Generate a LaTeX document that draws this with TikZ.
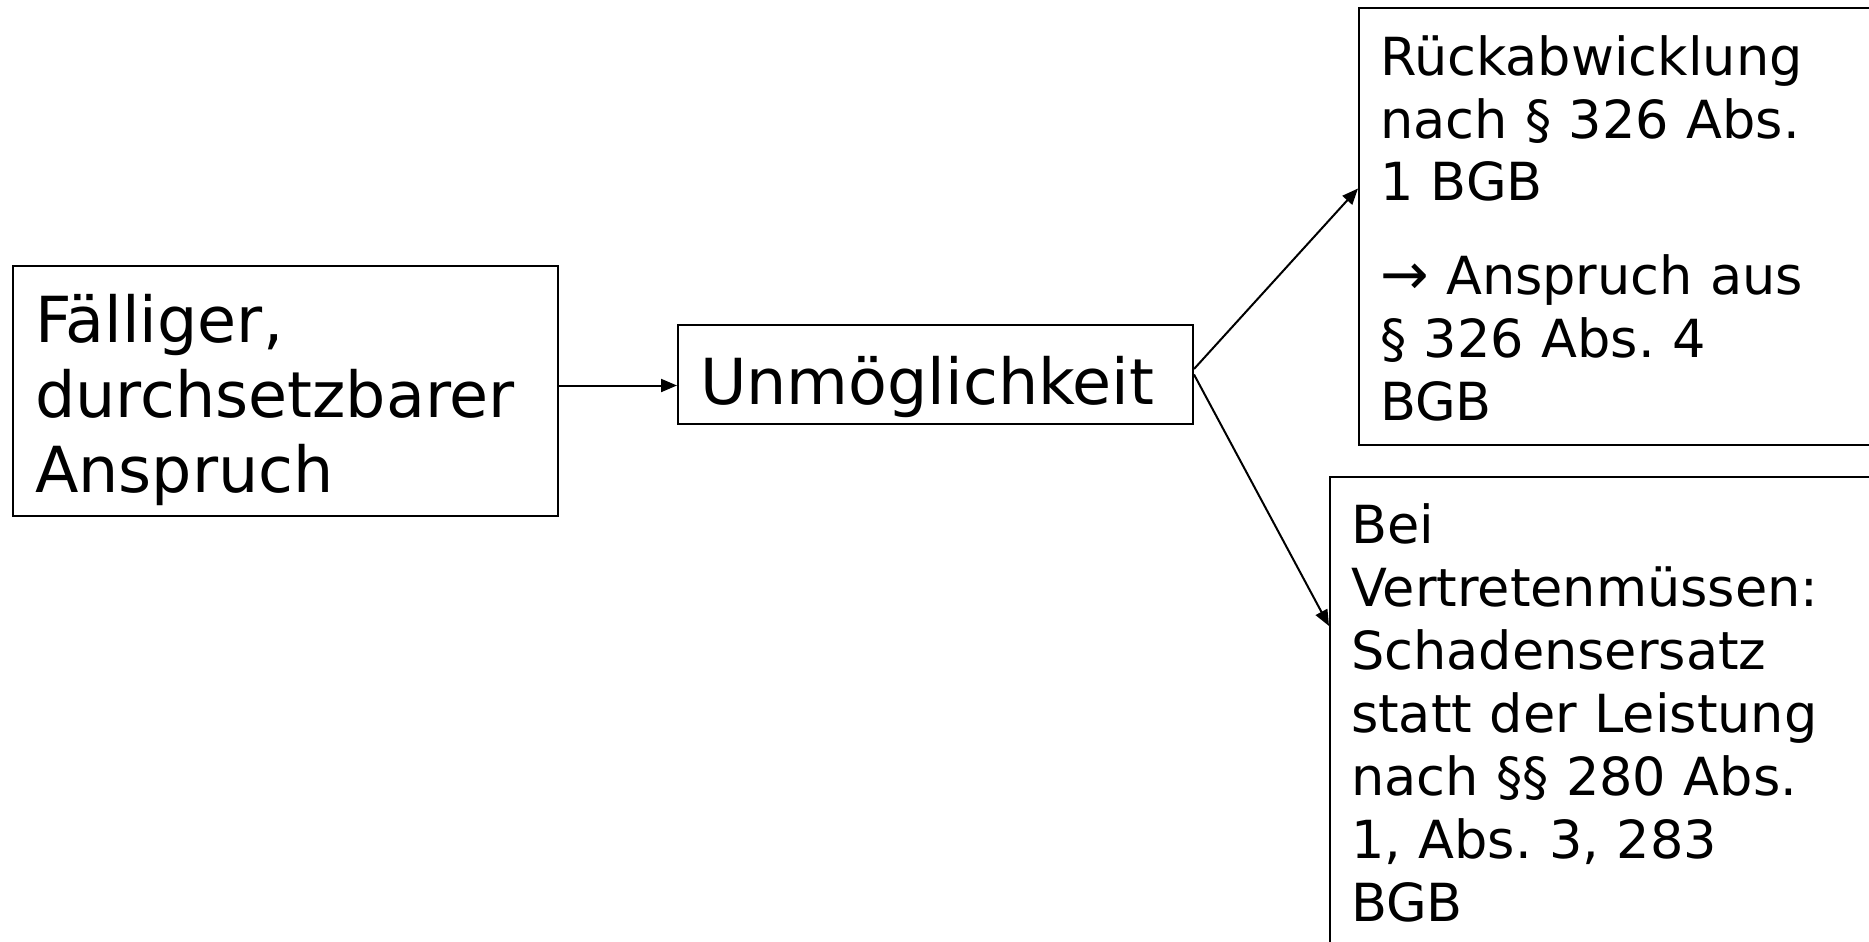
\documentclass[tikz,border=0pt]{standalone}
\usepackage{fontspec}
\setmainfont{DejaVu Sans}
\usetikzlibrary{arrows.meta}
\frenchspacing
\begin{document}
\begin{tikzpicture}[x=1pt,y=-1pt,
  box/.style={draw=black, line width=2pt, anchor=north west, inner ysep=0pt, align=left},
  big/.style={font=\fontsize{63.5}{75}\selectfont, inner xsep=22pt},
  small/.style={font=\fontsize{52.5}{63}\selectfont, inner xsep=21pt},
  arr/.style={line width=2pt, -{Triangle[length=16pt,width=13pt]}}]
\useasboundingbox (0,0) rectangle (1869,942);
\clip (0,0) rectangle (1869,942);
\node[box,big,text width=501pt] (A) at (12,265)
  {\rule{0pt}{76pt}Fälliger,\\durchsetzbarer\\Anspruch\rule[-24pt]{0pt}{0pt}};
\node[box,big,text width=471pt] (B) at (677,324)
  {\rule{0pt}{79pt}Unmöglichkeit\rule[-20pt]{0pt}{0pt}};
\node[box,small,text width=560pt] (C) at (1358,7)
  {\rule{0pt}{67pt}Rückabwicklung\\nach § 326 Abs.\\1 BGB\\[31pt]{\fontsize{58}{63}\selectfont →} Anspruch aus\\§ 326 Abs. 4\\BGB\rule[-24pt]{0pt}{0pt}};
\node[box,small,text width=580pt] (D) at (1329,476)
  {\rule{0pt}{66pt}Bei\\Vertretenmüssen:\\Schadensersatz\\statt der Leistung\\nach §§ 280 Abs.\\1, Abs. 3, 283\\BGB\rule[-40pt]{0pt}{0pt}};
\draw[arr] ([yshift=5.5pt]A.east) -- ([yshift=5.5pt]A.east -| B.west);
\draw[arr] ([yshift=5.5pt]B.east) -- ([yshift=38pt]C.west);
\draw[arr] (B.east) -- ([yshift=-150pt]D.north west);
\end{tikzpicture}
\end{document}
